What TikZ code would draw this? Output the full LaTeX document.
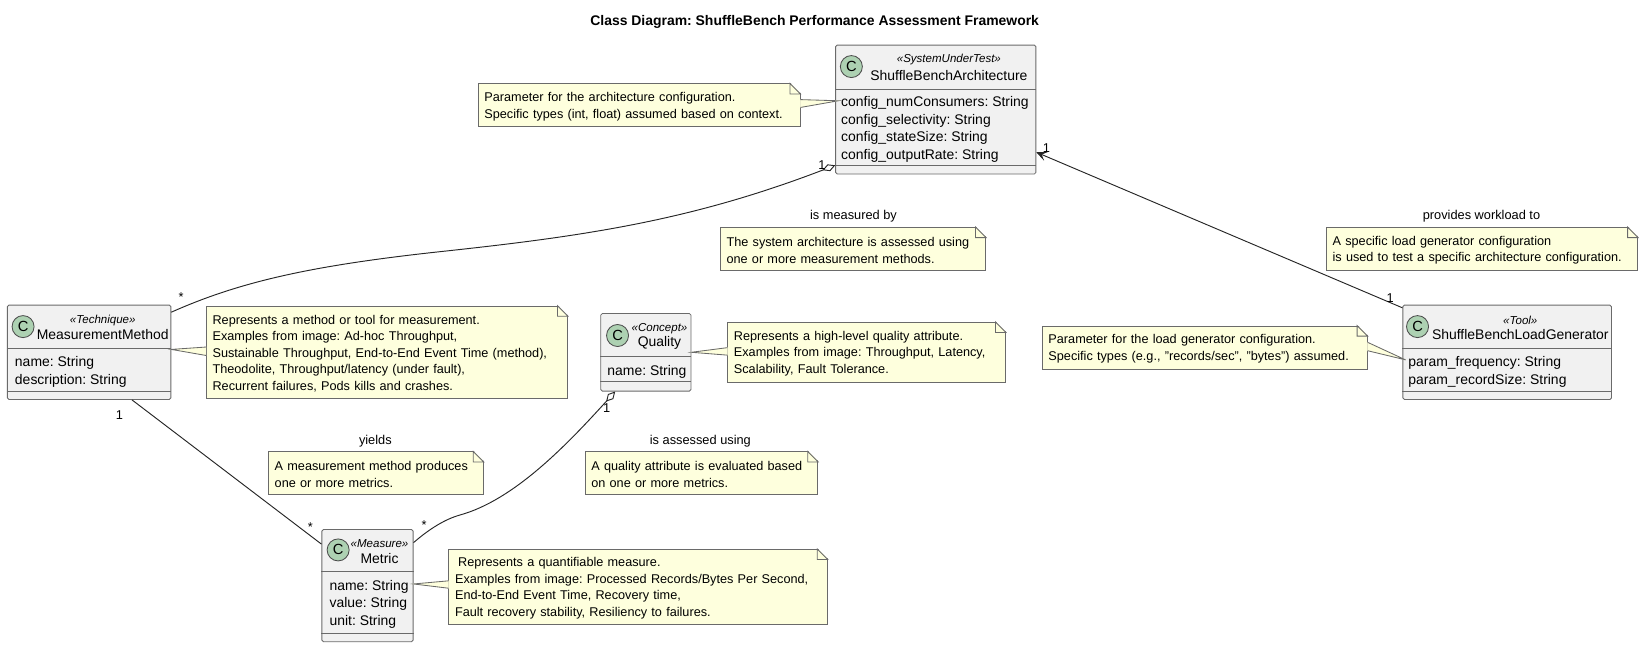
\documentclass[tikz,border=0pt]{standalone}
\usepackage{fontspec}
\usepackage{xcolor}
\setmainfont{Liberation Sans}
\usetikzlibrary{arrows.meta,calc}

\definecolor{classfill}{HTML}{F1F1F1}
\definecolor{notefill}{HTML}{FEFFDD}
\definecolor{spotfill}{HTML}{ADD1B2}
\definecolor{edgegray}{HTML}{6A6A6A}

\newcommand{\notefold}[1]{%
    \fill[white] ($(#1.north east)+(-10,-1)$) -- ($(#1.north east)+(1,-1)$) -- ($(#1.north east)+(1,10)$) -- cycle;
    \draw[noteline, fill=notefill] ($(#1.north east)+(-10,0)$) -- ($(#1.north east)+(-10,10)$) -- ($(#1.north east)+(0,10)$) -- cycle;
}
\newcommand{\notetail}[4]{%
    \path[fill=notefill, draw=notefill] ($(#1)+(0,#2)$) -- (#4) -- ($(#1)+(0,#3)$) -- cycle;
    \draw[noteline] ($(#1)+(0,#2)$) -- (#4) -- ($(#1)+(0,#3)$);
}

\begin{document}
\frenchspacing
\begin{tikzpicture}[x=1pt,y=-1pt,semithick]
        \tikzstyle{classbox}=[draw=edgegray,fill=classfill,rounded corners=1.5pt,inner sep=0pt,line width=.8pt]
        \tikzstyle{spot}=[circle,draw=black!70,fill=spotfill,minimum size=21pt,inner sep=0pt,line width=.8pt,font=\fontsize{14}{14}\selectfont]
        \tikzstyle{stereo}=[inner sep=0pt,yshift=-1.5pt,font=\itshape\fontsize{11}{11}\selectfont]
        \tikzstyle{cname}=[inner sep=0pt,font=\fontsize{13.3}{16}\selectfont]
        \tikzstyle{attrs}=[anchor=north west,inner sep=0pt,align=left,font=\fontsize{13.3}{16.6}\selectfont]
        \tikzstyle{sepline}=[draw=edgegray,line width=.8pt]
        \tikzstyle{notebox}=[draw=edgegray,fill=notefill,inner xsep=6pt,inner ysep=0pt,align=left,line width=.8pt,font=\fontsize{12.1}{15.8}\selectfont,execute at begin node={\rule{0pt}{11pt}}]
        \tikzstyle{noteline}=[draw=edgegray,line width=.8pt]
        \tikzstyle{lbl}=[inner sep=0pt,yshift=-1.5pt,font=\fontsize{12.2}{14}\selectfont]
        \tikzstyle{mult}=[inner sep=0pt,font=\fontsize{12.2}{14}\selectfont]
        \tikzstyle{assoc}=[draw=black!85,line width=.9pt]
        \tikzstyle{hollow}=[{Diamond[open,length=13pt,width=7pt]}-]
        \useasboundingbox (0,0) rectangle (1568,618);

        \node[font=\bfseries\fontsize{13.3}{14}\selectfont,inner sep=0pt,yshift=-1.5pt] (title) at (777,19) {Class Diagram: ShuffleBench Performance Assessment Framework};

        \node[classbox,minimum width=191,minimum height=123] (arch) at (892.5,104.5) {};
        \node[spot] (archC) at (812,63.5) {C};
        \node[stereo] (archS) at (905,55) {«SystemUnderTest»};
        \node[cname] (archN) at (905,72) {ShuffleBenchArchitecture};
        \draw[sepline] (arch.west |- 0,85) -- (arch.east |- 0,85);
        \node[attrs] (archT) at (802,92) {config\_numConsumers: String\\config\_selectivity: String\\config\_stateSize: String\\config\_outputRate: String};
        \draw[sepline] (arch.west |- 0,158) -- (arch.east |- 0,158);

        \node[classbox,minimum width=156,minimum height=90] (method) at (85,336) {};
        \node[spot] (methodC) at (22,311.5) {C};
        \node[stereo] (methodS) at (98,304) {«Technique»};
        \node[cname] (methodN) at (98,319) {MeasurementMethod};
        \draw[sepline] (method.west |- 0,332) -- (method.east |- 0,332);
        \node[attrs] (methodT) at (14,340) {name: String\\description: String};
        \draw[sepline] (method.west |- 0,373) -- (method.east |- 0,373);

        \node[classbox,minimum width=86,minimum height=74] (quality) at (616,336) {};
        \node[spot] (qualityC) at (589,320) {C};
        \node[stereo] (qualityS) at (629,312) {«Concept»};
        \node[cname] (qualityN) at (629,327) {Quality};
        \draw[sepline] (quality.west |- 0,340) -- (quality.east |- 0,340);
        \node[attrs] (qualityT) at (579,348) {name: String};
        \draw[sepline] (quality.west |- 0,364) -- (quality.east |- 0,364);

        \node[classbox,minimum width=87,minimum height=107] (metric) at (350.5,558.5) {};
        \node[spot] (metricC) at (322.5,524.5) {C};
        \node[stereo] (metricS) at (362,517) {«Measure»};
        \node[cname] (metricN) at (362,533) {Metric};
        \draw[sepline] (metric.west |- 0,545) -- (metric.east |- 0,545);
        \node[attrs] (metricT) at (314,553) {name: String\\value: String\\unit: String};
        \draw[sepline] (metric.west |- 0,604) -- (metric.east |- 0,604);

        \node[classbox,minimum width=199,minimum height=90] (loadgen) at (1437.5,336) {};
        \node[spot] (loadgenC) at (1352,311.5) {C};
        \node[stereo] (loadgenS) at (1450,304) {«Tool»};
        \node[cname] (loadgenN) at (1450,319.5) {ShuffleBenchLoadGenerator};
        \draw[sepline] (loadgen.west |- 0,332) -- (loadgen.east |- 0,332);
        \node[attrs] (loadgenT) at (1343,340) {param\_frequency: String\\param\_recordSize: String};
        \draw[sepline] (loadgen.west |- 0,373) -- (loadgen.east |- 0,373);

        \node[notebox,text width=295,minimum height=41] (archNote) at (609.5,100.5) {Parameter for the architecture configuration.\\Specific types (int, float) assumed based on context.};
        \node[notebox,text width=241,minimum height=41] (measNote) at (813.5,237.5) {The system architecture is assessed using\\one or more measurement methods.};
        \node[notebox,text width=285,minimum height=41] (workNote) at (1413.5,237.5) {A specific load generator configuration\\is used to test a specific architecture configuration.};
        \node[notebox,text width=298,minimum height=41] (paramNote) at (1149,331.5) {Parameter for the load generator configuration.\\Specific types (e.g., "records/sec", "bytes") assumed.};
        \node[notebox,text width=332.5,minimum height=88] (methodNote) at (369,336) {Represents a method or tool for measurement.\\Examples from image: Ad-hoc Throughput,\\Sustainable Throughput, End-to-End Event Time (method),\\Theodolite, Throughput/latency (under fault),\\Recurrent failures, Pods kills and crashes.};
        \node[notebox,text width=253,minimum height=57] (qualityNote) at (826.5,336) {Represents a high-level quality attribute.\\Examples from image: Throughput, Latency,\\Scalability, Fault Tolerance.};
        \node[notebox,text width=193,minimum height=41] (yieldNote) at (358.5,451.5) {A measurement method produces\\one or more metrics.};
        \node[notebox,text width=210,minimum height=41] (assessNote) at (669,451.5) {A quality attribute is evaluated based\\on one or more metrics.};
        \node[notebox,text width=349,minimum height=72] (metricNote) at (608.5,560) {\hspace*{3pt}Represents a quantifiable measure.\\Examples from image: Processed Records/Bytes Per Second,\\End-to-End Event Time, Recovery time,\\Fault recovery stability, Resiliency to failures.};

        \notefold{archNote} \notefold{measNote} \notefold{workNote}
        \notefold{paramNote} \notefold{methodNote} \notefold{qualityNote}
        \notefold{yieldNote} \notefold{assessNote} \notefold{metricNote}

        \notetail{archNote.east}{-5.5}{2}{$(arch.175.5)+(3,0)$}
        \notetail{paramNote.east}{-5}{3}{$(loadgen.183.5)+(3,2)$}
        \notetail{methodNote.west}{-5}{3}{method.2.2}
        \notetail{qualityNote.west}{-4.4}{2.7}{quality.east}
        \notetail{metricNote.west}{-6}{1}{metric.2}

        \node[lbl] (measLabel) at (814,205) {is measured by};
        \node[lbl] (workLabel) at (1413,205) {provides workload to};
        \node[lbl] (yieldLabel) at (358,419) {yields};
        \node[lbl] (assessLabel) at (668,419) {is assessed using};

        \draw[assoc,hollow] (arch.209.3) .. controls (660,210) and (560,225) .. (420,240) .. controls (300,253) and (230,268) .. (method.26);
        \draw[assoc,-{Stealth[length=10pt,width=9pt,inset=4.5pt]}] (loadgen.157.1) -- (arch.-23.5);
        \draw[assoc] (method.-48.4) -- (metric.138.5);
        \draw[assoc,hollow] (quality.232.9) .. controls (540,425) and (490,477) .. (438.7,491.2) .. controls (425,495) and (410,504) .. (metric.43.3);

        \node[mult] (archOne) at (784,157) {1};
        \node[mult] (methodStar) at (172.8,283.6) {*};
        \node[mult] (archTwo) at (998,141) {1};
        \node[mult] (loadgenOne) at (1326,284) {1};
        \node[mult] (methodOne) at (114,396) {1};
        \node[mult] (metricStarA) at (296,503) {*};
        \node[mult] (qualityOne) at (578.6,388.8) {1};
        \node[mult] (metricStarB) at (404.6,500.7) {*};
\end{tikzpicture}
\end{document}
